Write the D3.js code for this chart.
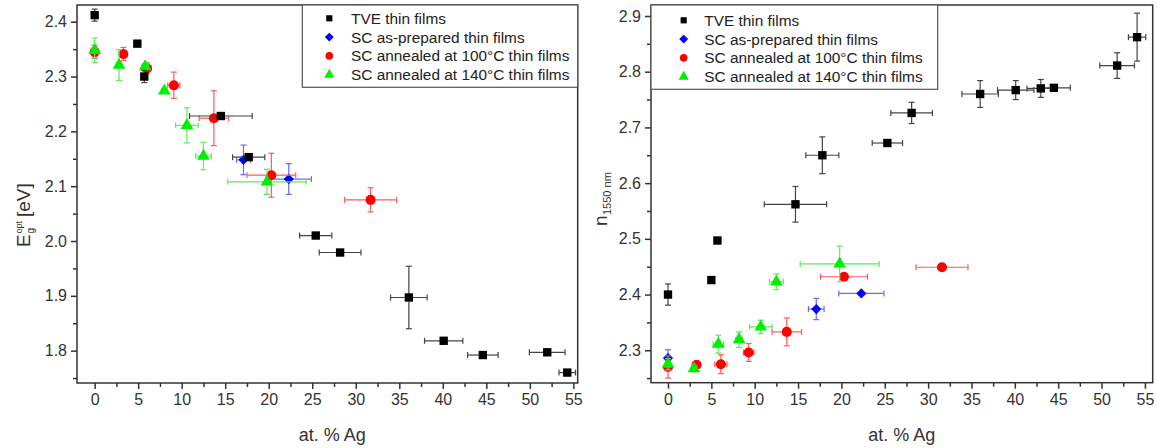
<!DOCTYPE html>
<html>
<head>
<meta charset="utf-8">
<script src="https://cdn.jsdelivr.net/npm/d3@7"></script>
<style>
  body { margin: 0; background: #fff; }
  svg { font-family: Arial, "Liberation Sans", sans-serif; }
</style>
</head>
<body>
<svg id="chart" width="1157" height="448"></svg>
<script>
// rows: [at.% Ag, value, xErr, yErr]
const tveGap = [
  [0, 2.412, 0, 0.011],
  [4.9, 2.360, 0, 0],
  [5.7, 2.300, 0.3, 0.011],
  [14.5, 2.228, 3.6, 0.005],
  [17.7, 2.153, 1.85, 0.004],
  [25.4, 2.010, 1.85, 0],
  [28.2, 1.979, 2.4, 0],
  [36.1, 1.897, 2.1, 0.057],
  [40.1, 1.818, 2.2, 0],
  [44.6, 1.792, 1.75, 0],
  [52.0, 1.797, 2.05, 0],
  [54.3, 1.760, 0.95, 0]
];
const scAsGap = [
  [0, 2.344, 0.3, 0.008],
  [17.1, 2.148, 0.8, 0.027],
  [22.3, 2.113, 2.6, 0.028]
];
const sc100Gap = [
  [0, 2.345, 0.3, 0.012],
  [3.3, 2.341, 0.4, 0.012],
  [6.0, 2.315, 0.5, 0.010],
  [9.1, 2.284, 0.7, 0.024],
  [13.7, 2.224, 1.7, 0.050],
  [20.3, 2.120, 2.8, 0.040],
  [31.7, 2.075, 3.0, 0.022]
];
const sc140Gap = [
  [0, 2.348, 0.3, 0.022],
  [2.8, 2.321, 0.3, 0.028],
  [5.8, 2.318, 0.4, 0.006],
  [8.0, 2.274, 0.3, 0.004],
  [10.6, 2.211, 1.3, 0.032],
  [12.5, 2.155, 0.9, 0.025],
  [19.8, 2.108, 4.5, 0.023]
];

const tveN = [
  [0, 2.400, 0, 0.019],
  [5.0, 2.426, 0, 0],
  [5.7, 2.497, 0.3, 0],
  [14.7, 2.562, 3.6, 0.032],
  [17.8, 2.650, 1.9, 0.033],
  [25.3, 2.672, 1.75, 0],
  [28.1, 2.726, 2.4, 0.019],
  [36.0, 2.760, 2.1, 0.024],
  [40.1, 2.767, 2.1, 0.017],
  [43.0, 2.770, 1.6, 0.016],
  [44.5, 2.771, 1.9, 0],
  [51.8, 2.811, 2.0, 0.023],
  [54.1, 2.862, 1.0, 0.043]
];
const scAsN = [
  [0, 2.286, 0.2, 0.015],
  [17.1, 2.374, 0.9, 0.019],
  [22.3, 2.402, 2.6, 0]
];
const sc100N = [
  [0, 2.270, 0.2, 0.020],
  [3.3, 2.274, 0.3, 0],
  [6.1, 2.275, 0.7, 0.017],
  [9.3, 2.296, 0.6, 0.016],
  [13.7, 2.333, 1.7, 0.025],
  [20.3, 2.432, 2.7, 0],
  [31.6, 2.449, 3.0, 0.005]
];
const sc140N = [
  [0, 2.275, 0.2, 0.010],
  [3.0, 2.267, 0.3, 0.005],
  [5.8, 2.311, 0.6, 0.016],
  [8.2, 2.319, 0.4, 0.014],
  [10.7, 2.342, 1.3, 0.012],
  [12.5, 2.423, 0.8, 0.014],
  [19.8, 2.455, 4.55, 0.032]
];

const seriesNames = [
  "TVE thin films",
  "SC as-prepared thin films",
  "SC annealed at 100\u00b0C thin films",
  "SC annealed at 140\u00b0C thin films"
];
const xTicks = [0, 5, 10, 15, 20, 25, 30, 35, 40, 45, 50, 55];
const gapTicks = [1.8, 1.9, 2.0, 2.1, 2.2, 2.3, 2.4];
const nTicks = [2.3, 2.4, 2.5, 2.6, 2.7, 2.8, 2.9];

// diamond = square turned by 45 degrees
const styles = [
  { fill: "#000", err: "#444", symbol: d3.symbolSquare, size: 70, legendSize: 38, rot: 0 },
  { fill: "#0000ff", err: "#6a6aff", symbol: d3.symbolSquare, size: 52, legendSize: 40, rot: 45 },
  { fill: "#ff0000", err: "#ff5a5a", symbol: d3.symbolCircle, size: 80, legendSize: 45, rot: 0 },
  { fill: "#00ee00", err: "#5aee5a", symbol: d3.symbolTriangle, size: 70, legendSize: 45, rot: 0 }
];
// drawing order: blue, red, green, then black on top
const drawOrder = [1, 2, 3, 0];

const svg = d3.select("#chart");

function drawPanel(opts) {
  const x = d3.scaleLinear().domain(opts.xDomain).range([opts.left, opts.right]);
  const y = d3.scaleLinear().domain(opts.yDomain).range([opts.bottom, opts.top]);
  const g = svg.append("g");

  // frame
  g.append("rect")
    .attr("x", opts.left).attr("y", opts.top)
    .attr("width", opts.right - opts.left).attr("height", opts.bottom - opts.top)
    .attr("fill", "none").attr("stroke", "#333").attr("stroke-width", 1.5);

  // axes
  g.append("g")
    .attr("transform", `translate(0,${opts.bottom})`)
    .call(d3.axisBottom(x).tickValues(xTicks).tickSize(6).tickPadding(5).tickFormat(d3.format("d")));
  g.append("g")
    .attr("transform", `translate(0,${opts.bottom})`)
    .call(d3.axisBottom(x).tickValues(d3.range(2.5, 56, 5)).tickSize(4).tickFormat(""));
  g.append("g")
    .attr("transform", `translate(${opts.left},0)`)
    .call(d3.axisLeft(y).tickValues(opts.yTicks).tickSize(6).tickPadding(4).tickFormat(d3.format(".1f")));
  g.append("g")
    .attr("transform", `translate(${opts.left},0)`)
    .call(d3.axisLeft(y).tickValues(opts.yMinor).tickSize(4).tickFormat(""));
  g.selectAll(".domain").remove();
  g.selectAll(".tick line").attr("stroke", "#333").attr("stroke-width", 1.5);
  g.selectAll(".tick text").attr("fill", "#333").style("font-size", "16px");

  // data
  drawOrder.forEach((si) => {
    const st = styles[si];
    const rows = opts.series[si];
    const eg = g.append("g").attr("stroke", st.err).attr("stroke-width", 1.2).attr("fill", "none");
    rows.forEach((d) => {
      const cx = x(d[0]), cy = y(d[1]);
      if (d[2] > 0) {
        const x0 = x(d[0] - d[2]), x1 = x(d[0] + d[2]);
        eg.append("line").attr("x1", x0).attr("x2", x1).attr("y1", cy).attr("y2", cy);
        eg.append("line").attr("x1", x0).attr("x2", x0).attr("y1", cy - 3).attr("y2", cy + 3);
        eg.append("line").attr("x1", x1).attr("x2", x1).attr("y1", cy - 3).attr("y2", cy + 3);
      }
      if (d[3] > 0) {
        const y0 = y(d[1] - d[3]), y1 = y(d[1] + d[3]);
        eg.append("line").attr("x1", cx).attr("x2", cx).attr("y1", y0).attr("y2", y1);
        eg.append("line").attr("x1", cx - 3).attr("x2", cx + 3).attr("y1", y0).attr("y2", y0);
        eg.append("line").attr("x1", cx - 3).attr("x2", cx + 3).attr("y1", y1).attr("y2", y1);
      }
    });
    g.append("g").selectAll("path")
      .data(rows)
      .enter()
      .append("path")
      .attr("d", d3.symbol().type(st.symbol).size(st.size))
      .attr("transform", (d) => `translate(${x(d[0])},${y(d[1])}) rotate(${st.rot})`)
      .attr("fill", st.fill);
  });

  // legend
  const lg = g.append("g");
  lg.append("rect")
    .attr("x", opts.legend.x0).attr("y", opts.top)
    .attr("width", opts.legend.x1 - opts.legend.x0).attr("height", opts.legend.y1 - opts.top)
    .attr("fill", "#fff").attr("stroke", "#555").attr("stroke-width", 1.2);
  seriesNames.forEach((name, i) => {
    const ly = opts.legend.rowY + i * 18.8;
    lg.append("path")
      .attr("d", d3.symbol().type(styles[i].symbol).size(styles[i].legendSize))
      .attr("transform", `translate(${opts.legend.symX},${ly}) rotate(${styles[i].rot})`)
      .attr("fill", styles[i].fill);
    lg.append("text")
      .attr("x", opts.legend.textX).attr("y", ly).attr("dy", "0.36em")
      .attr("fill", "#222").style("font-size", "15.4px")
      .text(name);
  });

  // x title
  g.append("text")
    .attr("x", (opts.left + opts.right) / 2 + opts.xTitleShift).attr("y", 441)
    .attr("text-anchor", "middle").attr("fill", "#333").style("font-size", "18px")
    .text("at. % Ag");

  return g;
}

drawPanel({
  left: 77, right: 577.7, top: 5, bottom: 383,
  xDomain: [-2.03, 55.5], yDomain: [1.741, 2.4305],
  yTicks: gapTicks, yMinor: [1.75, 1.85, 1.95, 2.05, 2.15, 2.25, 2.35],
  series: [tveGap, scAsGap, sc100Gap, sc140Gap],
  legend: { x0: 302.3, x1: 577.7, y1: 87.3, rowY: 18.3, symX: 329.3, textX: 351 },
  xTitleShift: 5
});

drawPanel({
  left: 651, right: 1152.7, top: 5, bottom: 382.7,
  xDomain: [-1.96, 55.9], yDomain: [2.2418, 2.9197],
  yTicks: nTicks, yMinor: [2.25, 2.35, 2.45, 2.55, 2.65, 2.75, 2.85],
  series: [tveN, scAsN, sc100N, sc140N],
  legend: { x0: 651, x1: 937.7, y1: 89.3, rowY: 20.3, symX: 683.7, textX: 704.3 },
  xTitleShift: 0
});

// y titles
const yl = svg.append("g").attr("transform", "translate(30,247) rotate(-90)")
  .attr("fill", "#333");
yl.append("text").attr("x", 0).attr("y", 0).style("font-size", "19px").text("E");
yl.append("text").attr("x", 13.5).attr("y", -8).style("font-size", "9px").text("opt");
yl.append("text").attr("x", 13.5).attr("y", 4).style("font-size", "10px").text("g");
yl.append("text").attr("x", 30).attr("y", 0).style("font-size", "19px").text("[eV]");

const nl = svg.append("g").attr("transform", "translate(607,226) rotate(-90)")
  .attr("fill", "#333");
nl.append("text").attr("x", 0).attr("y", 0).style("font-size", "19px").text("n");
nl.append("text").attr("x", 11).attr("y", 4).style("font-size", "11px").text("1550 nm");
</script>
</body>
</html>
